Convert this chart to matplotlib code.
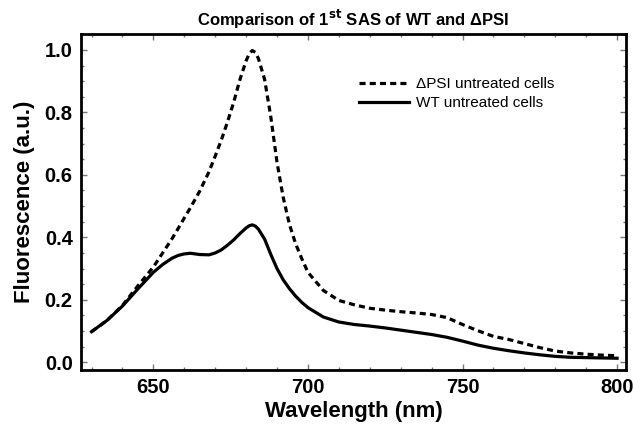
import matplotlib.pyplot as plt
from matplotlib.ticker import MultipleLocator

plt.rcParams['font.family'] = ['Liberation Sans', 'DejaVu Sans']

# wavelength grid (nm)
wavelength = [630, 635, 640, 645, 650, 653, 656, 658, 660, 662, 665, 668, 670,
              672, 674, 676, 678, 680, 681, 682, 683, 684, 686, 688, 690, 692,
              694, 696, 698, 700, 705, 710, 715, 720, 725, 730, 735, 740, 745,
              750, 755, 760, 765, 770, 775, 780, 785, 790, 795, 800]

# WT untreated cells (solid)
wt = [0.098, 0.134, 0.180, 0.235, 0.288, 0.313, 0.333, 0.342, 0.347, 0.349,
      0.345, 0.344, 0.350, 0.360, 0.375, 0.392, 0.412, 0.430, 0.437, 0.440,
      0.436, 0.426, 0.394, 0.345, 0.300, 0.264, 0.236, 0.212, 0.192, 0.175,
      0.145, 0.129, 0.121, 0.116, 0.110, 0.103, 0.096, 0.089, 0.080, 0.068,
      0.055, 0.045, 0.037, 0.030, 0.024, 0.019, 0.016, 0.015, 0.014, 0.013]

# dPSI untreated cells (dashed)
dpsi = [0.098, 0.134, 0.182, 0.245, 0.305, 0.350, 0.395, 0.428, 0.462, 0.495,
        0.548, 0.610, 0.660, 0.712, 0.770, 0.833, 0.905, 0.965, 0.988, 0.998,
        0.992, 0.972, 0.905, 0.785, 0.640, 0.528, 0.442, 0.380, 0.332, 0.288,
        0.230, 0.198, 0.184, 0.173, 0.167, 0.162, 0.158, 0.153, 0.143, 0.121,
        0.101, 0.083, 0.073, 0.060, 0.047, 0.036, 0.030, 0.026, 0.023, 0.021]

fig = plt.figure(figsize=(6.33, 4.3), dpi=100)
ax = fig.add_axes([0.128, 0.14, 0.861, 0.781])

ax.plot(wavelength, dpsi, color='black', lw=2.3, linestyle=(0, (1.9, 1.3)),
        label='\u0394PSI untreated cells')
ax.plot(wavelength, wt, color='black', lw=2.3, label='WT untreated cells')

ax.set_xlim(626.6, 802.9)
ax.set_ylim(-0.024, 1.051)
ax.xaxis.set_major_locator(MultipleLocator(50))
ax.xaxis.set_minor_locator(MultipleLocator(10))
ax.yaxis.set_major_locator(MultipleLocator(0.2))
ax.yaxis.set_minor_locator(MultipleLocator(0.05))
ax.yaxis.set_major_formatter(plt.FuncFormatter(lambda v, p: f'{v:.1f}'))

ax.tick_params(which='both', direction='in', top=True, right=True, color='#777777')
ax.tick_params(which='major', length=4, width=1, labelsize=14.5, pad=6)
ax.tick_params(which='minor', length=2, width=1)
for lbl in ax.get_xticklabels() + ax.get_yticklabels():
    lbl.set_fontweight('bold')
for s in ax.spines.values():
    s.set_linewidth(2)

ax.set_xlabel('Wavelength (nm)', fontsize=16, fontweight='bold', labelpad=3)
ax.set_ylabel('Fluorescence (a.u.)', fontsize=16, fontweight='bold', labelpad=7)
ax.set_title('Comparison of 1$^{\\mathbf{st}}$ SAS of WT and \u0394PSI',
             fontsize=12, fontweight='bold', pad=6)

ax.legend(loc='upper left', bbox_to_anchor=(0.51, 0.872), frameon=False,
          fontsize=11, handlelength=3.3, handletextpad=0.45, borderpad=0,
          borderaxespad=0, labelspacing=0.35)

fig.savefig('out.png', dpi=100)
